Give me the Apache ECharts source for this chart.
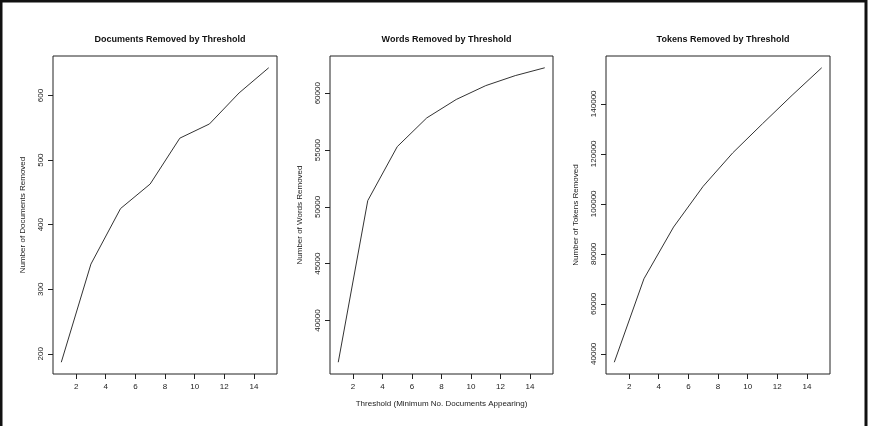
<!DOCTYPE html>
<html>
<head>
<meta charset="utf-8">
<script src="https://cdn.jsdelivr.net/npm/echarts@6/dist/echarts.min.js"></script>
<style>
  html, body { margin: 0; padding: 0; background: #fff; }
  #main { width: 874px; height: 426px; }
</style>
</head>
<body>
<div id="main"></div>
<script>
// thresholds (minimum no. of documents a word appears in)
var thresholds = [1, 3, 5, 7, 9, 11, 13, 15];
var docsRemoved = [187, 339, 425, 463, 534, 556, 604, 643];
var wordsRemoved = [36330, 50550, 55300, 57830, 59450, 60670, 61550, 62240];
var tokensRemoved = [36640, 70000, 90700, 107000, 120400, 132000, 143400, 154400];

var xTicks = [2, 4, 6, 8, 10, 12, 14];
var docsTicks = [200, 300, 400, 500, 600];
var wordsTicks = [40000, 45000, 50000, 55000, 60000];
var tokensTicks = [40000, 60000, 80000, 100000, 120000, 140000];

var titles = ['Documents Removed by Threshold', 'Words Removed by Threshold', 'Tokens Removed by Threshold'];
var yNames = ['Number of Documents Removed', 'Number of Words Removed', 'Number of Tokens Removed'];
var xName = 'Threshold (Minimum No. Documents Appearing)';

var font = '"Liberation Sans", Arial, sans-serif';
var ink = '#222';

// R style axis range: data range stretched by 4% each side
function rRange(arr) {
  var lo = Math.min.apply(null, arr), hi = Math.max.apply(null, arr);
  var d = (hi - lo) * 0.04;
  return [lo - d, hi + d];
}

function pairs(ys) {
  return thresholds.map(function (x, i) { return [x, ys[i]]; });
}

var chart = echarts.init(document.getElementById('main'));

var grids = [
  { left: 53, top: 56, width: 224, height: 318 },
  { left: 330, top: 56, width: 223, height: 318 },
  { left: 606, top: 56, width: 224, height: 318 }
];
var yData = [docsRemoved, wordsRemoved, tokensRemoved];
var yTicks = [docsTicks, wordsTicks, tokensTicks];
var xr = rRange(thresholds);

var option = {
  backgroundColor: '#fff',
  animation: false,
  title: grids.map(function (g, i) {
    return {
      text: titles[i],
      left: g.left + g.width / 2,
      top: 30,
      textAlign: 'center',
      textStyle: { fontFamily: font, fontSize: 9, fontWeight: 'bold', color: '#111' }
    };
  }),
  grid: grids.map(function (g) {
    return {
      left: g.left, top: g.top, width: g.width, height: g.height,
      show: true, borderColor: ink, borderWidth: 1, backgroundColor: 'transparent'
    };
  }),
  xAxis: grids.map(function (g, i) {
    return {
      type: 'value',
      gridIndex: i,
      min: xr[0],
      max: xr[1],
      name: i === 1 ? xName : '',
      nameLocation: 'middle',
      nameGap: 26,
      nameTextStyle: { fontFamily: font, fontSize: 8, color: ink },
      axisLine: { show: false },
      splitLine: { show: false },
      axisTick: { show: true, length: 5, customValues: xTicks, lineStyle: { color: ink } },
      axisLabel: { customValues: xTicks, margin: 9, fontFamily: font, fontSize: 8, color: ink }
    };
  }),
  yAxis: grids.map(function (g, i) {
    var r = rRange(yData[i]);
    return {
      type: 'value',
      gridIndex: i,
      min: r[0],
      max: r[1],
      name: yNames[i],
      nameLocation: 'middle',
      nameGap: 26,
      nameRotate: 90,
      nameTextStyle: { fontFamily: font, fontSize: 8, color: ink },
      axisLine: { show: false },
      splitLine: { show: false },
      axisTick: { show: true, length: 5, customValues: yTicks[i], lineStyle: { color: ink } },
      axisLabel: {
        customValues: yTicks[i], rotate: 90, margin: 8,
        fontFamily: font, fontSize: 8, color: ink,
        formatter: function (v) { return String(v); }
      }
    };
  }),
  series: yData.map(function (ys, i) {
    return {
      type: 'line',
      xAxisIndex: i,
      yAxisIndex: i,
      data: pairs(ys),
      showSymbol: false,
      lineStyle: { color: '#333', width: 1 }
    };
  }),
  graphic: [
    // outer frame of the exported figure
    { type: 'rect', shape: { x: 1, y: 1, width: 865, height: 430 },
      style: { fill: 'none', stroke: '#111', lineWidth: 3 }, silent: true }
  ]
};

chart.setOption(option);
</script>
</body>
</html>
